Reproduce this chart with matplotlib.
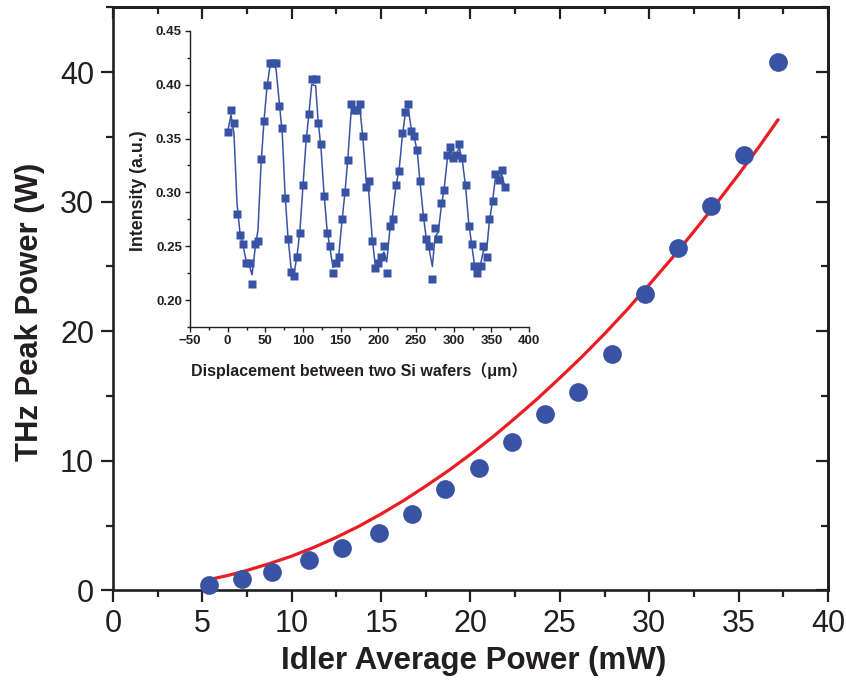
import numpy as np
import matplotlib
matplotlib.use("Agg")
import matplotlib.pyplot as plt
from matplotlib.ticker import MultipleLocator

# ---------------- data ----------------
idler_mw = [5.37, 7.24, 8.90, 10.95, 12.83, 14.87, 16.71, 18.59, 20.46, 22.30,
            24.18, 26.03, 27.90, 29.74, 31.61, 33.45, 35.31, 37.20]
thz_w = [0.42, 0.89, 1.41, 2.36, 3.31, 4.46, 5.93, 7.86, 9.48, 11.47,
         13.58, 15.35, 18.26, 22.90, 26.45, 29.69, 33.61, 40.76]

fit_x = [5.4, 6.5, 7.5, 8.75, 10.0, 11.25, 12.5, 13.75, 15.0, 16.25, 17.5, 18.75,
         20.0, 21.25, 22.5, 23.75, 25.0, 26.25, 27.5, 28.75, 30.0, 31.25, 32.5,
         33.75, 35.0, 36.1, 37.2]
fit_y = [0.85, 1.18, 1.55, 2.07, 2.65, 3.33, 4.10, 4.95, 5.90, 6.93, 8.05, 9.23,
         10.50, 11.85, 13.30, 14.80, 16.40, 18.05, 19.80, 21.65, 23.60, 25.60, 27.70,
         29.85, 32.10, 34.15, 36.30]

disp_um = [0.0, 4.4, 8.4, 12.4, 16.4, 20.4, 24.3, 29.2, 32.3, 36.3,
           40.3, 44.2, 48.2, 52.2, 56.2, 60.6, 64.2, 68.6, 72.6, 76.1,
           80.1, 84.1, 88.1, 92.0, 96.0, 100.0, 104.0, 108.0, 111.5, 116.8,
           119.9, 123.9, 127.9, 131.9, 135.8, 139.8, 143.8, 147.8, 151.8, 155.8,
           159.7, 163.7, 167.7, 171.7, 175.7, 179.6, 183.6, 187.2, 191.6, 195.6,
           199.6, 203.5, 207.5, 211.1, 215.0, 219.0, 223.0, 227.9, 231.9, 235.8,
           239.8, 243.4, 247.8, 251.8, 255.3, 259.7, 263.3, 267.7, 271.7, 275.2,
           279.6, 283.6, 287.6, 291.6, 295.6, 299.6, 303.5, 307.5, 311.5, 315.9,
           319.9, 323.9, 327.4, 331.4, 335.8, 339.4, 343.8, 347.3, 351.8, 355.3,
           359.7, 363.7, 368.1]
intensity = [0.3565, 0.3769, 0.3648, 0.2800, 0.2605, 0.2522, 0.2346, 0.2346, 0.2151, 0.2522,
             0.2546, 0.3312, 0.3667, 0.4000, 0.4204, 0.4204, 0.4204, 0.3799, 0.3599, 0.2948,
             0.2571, 0.2265, 0.2222, 0.2398, 0.2623, 0.3068, 0.3503, 0.3725, 0.4049, 0.4049,
             0.3648, 0.3448, 0.2969, 0.2623, 0.2500, 0.2253, 0.2346, 0.2398, 0.2753, 0.3000,
             0.3299, 0.3821, 0.3765, 0.3765, 0.3821, 0.3519, 0.3049, 0.3105, 0.2552, 0.2299,
             0.2346, 0.2398, 0.2500, 0.2253, 0.2691, 0.2753, 0.3068, 0.3201, 0.3549, 0.3750,
             0.3821, 0.3574, 0.3519, 0.3398, 0.3102, 0.2769, 0.2571, 0.2500, 0.2198, 0.2670,
             0.2571, 0.2901, 0.3019, 0.3349, 0.3426, 0.3315, 0.3349, 0.3448, 0.3315, 0.3068,
             0.2691, 0.2522, 0.2321, 0.2253, 0.2321, 0.2500, 0.2398, 0.2753, 0.2920, 0.3170,
             0.3117, 0.3204, 0.3049]

main_xticks = [0, 5, 10, 15, 20, 25, 30, 35, 40]
main_yticks = [0, 10, 20, 30, 40]
inset_xticks = [-50, 0, 50, 100, 150, 200, 250, 300, 350, 400]
inset_yticks = [0.20, 0.25, 0.30, 0.35, 0.40, 0.45]

# ---------------- style ----------------
plt.rcParams["font.family"] = ["Liberation Sans", "DejaVu Sans"]

blue = "#3953a4"
red = "#ec1c24"
dark = "#231f20"

fig = plt.figure(figsize=(8.46, 6.89), dpi=100)
ax = fig.add_axes([0.1335, 0.143, 0.8452, 0.8465])

ax.plot(fit_x, fit_y, color=red, lw=2.3, zorder=2, solid_joinstyle="round")
ax.plot(idler_mw, thz_w, "o", color=blue, ms=13.5, mec="none", zorder=3, clip_on=False)

ax.set_xlim(0, 40)
ax.set_ylim(0, 45)
ax.set_xticks(main_xticks)
ax.set_yticks(main_yticks)
ax.xaxis.set_minor_locator(MultipleLocator(2.5))
ax.yaxis.set_minor_locator(MultipleLocator(5))
for s in ax.spines.values():
    s.set_linewidth(1.9)
    s.set_color(dark)
ax.tick_params(which="both", direction="out", width=1.6, color=dark, top=False, right=False)
ax.tick_params(which="major", length=8.6, labelsize=22, pad=5, labelcolor=dark)
ax.tick_params(which="minor", length=5)
ax.tick_params(axis="x", which="major", pad=5)
# inward ticks on top and right spines
ax2 = ax.secondary_xaxis("top")
ax2.set_xticks(main_xticks)
ax2.xaxis.set_minor_locator(MultipleLocator(2.5))
ax2.tick_params(which="both", direction="in", width=1.6, color=dark, labeltop=False)
ax2.tick_params(which="major", length=8.6)
ax2.tick_params(which="minor", length=5)
ax2.spines["top"].set_linewidth(1.9)
ax3 = ax.secondary_yaxis("right")
ax3.set_yticks(main_yticks)
ax3.yaxis.set_minor_locator(MultipleLocator(5))
ax3.tick_params(which="both", direction="in", width=1.6, color=dark, labelright=False)
ax3.tick_params(which="major", length=8.6)
ax3.tick_params(which="minor", length=5)
ax3.spines["right"].set_linewidth(1.9)

ax.set_xlabel("Idler Average Power (mW)", fontsize=22.5, fontweight="bold", color=dark)
ax.xaxis.set_label_coords(0.504, -0.096)
ax.set_ylabel("THz Peak Power (W)", fontsize=22.3, fontweight="bold", color=dark)
ax.yaxis.set_label_coords(-0.095, 0.4775)

# ---------------- inset ----------------
ins = fig.add_axes([0.2246, 0.525, 0.4007, 0.4305])
ins.patch.set_alpha(0)
arr = np.asarray(intensity)
smooth = arr.copy()
smooth[1:-1] = 0.15 * arr[:-2] + 0.7 * arr[1:-1] + 0.15 * arr[2:]
ins.plot(disp_um, smooth, color=blue, lw=1.1, zorder=2)
ins.plot(disp_um, intensity, "s", color=blue, ms=5.8, mec="none", zorder=3)
ins.set_xlim(-50, 400)
ins.set_ylim(0.175, 0.45)
ins.set_xticks(inset_xticks)
ins.set_yticks(inset_yticks)
ins.set_yticklabels([f"{v:.2f}" for v in inset_yticks])
ins.xaxis.set_minor_locator(MultipleLocator(25))
ins.yaxis.set_minor_locator(MultipleLocator(0.025))
ins.spines["top"].set_visible(False)
ins.spines["right"].set_visible(False)
for s in ("left", "bottom"):
    ins.spines[s].set_linewidth(1.0)
    ins.spines[s].set_color(dark)
ins.tick_params(which="both", direction="out", width=1.0, color=dark)
ins.tick_params(which="major", length=3.8, labelsize=9.5, pad=2, labelcolor=dark)
ins.tick_params(which="minor", length=2.4)
for lbl in ins.get_xticklabels() + ins.get_yticklabels():
    lbl.set_fontweight("bold")
ins.set_xlabel("Displacement between two Si wafers\uff08\u03bcm\uff09", fontsize=11.5,
               fontweight="bold", color=dark, labelpad=11,
               family=["Liberation Sans", "Noto Sans CJK JP", "DejaVu Sans"])
ins.set_ylabel("Intensity (a.u.)", fontsize=12.8, fontweight="bold", color=dark)
ins.yaxis.set_label_coords(-0.127, 0.46)

fig.savefig("out.png", dpi=100)
